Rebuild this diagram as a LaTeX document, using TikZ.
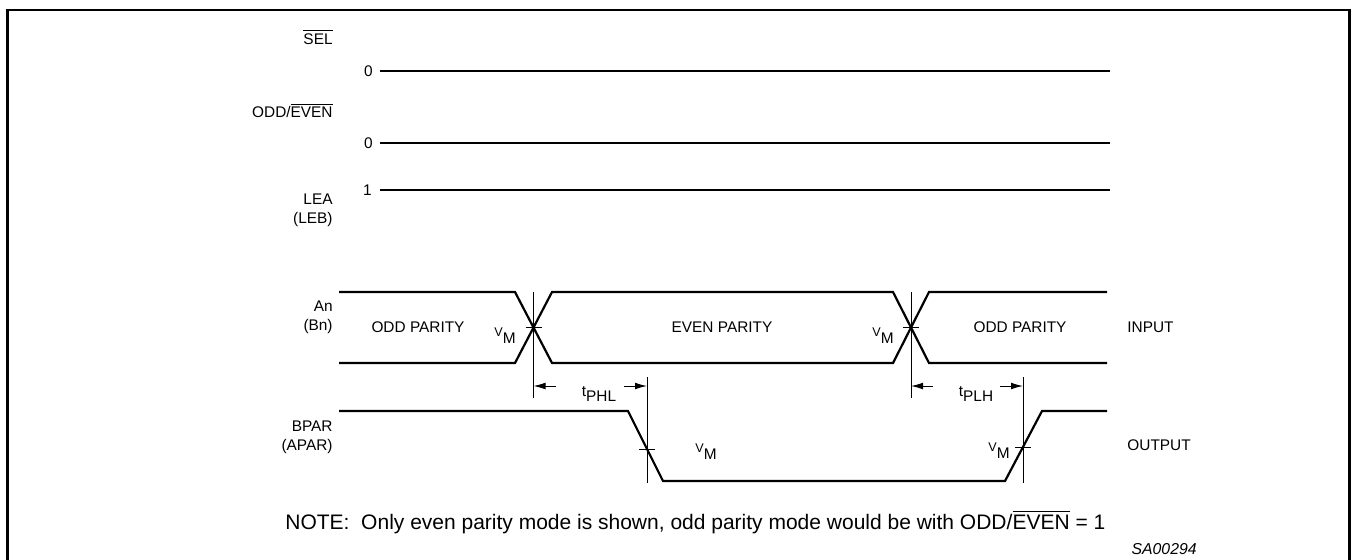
\documentclass[tikz,border=0pt]{standalone}
\usepackage{amsmath}
\usepackage{color}
\usepackage{fontspec}
\setmainfont{Liberation Sans}
\usetikzlibrary{arrows.meta}
\newcommand{\ovl}[1]{$\overline{\mbox{#1}}$}
\newcommand{\vm}{\raisebox{3.6pt}{\fontsize{6.3}{7}\selectfont V}M}
\newcommand{\tp}[1]{t\raisebox{-2.4pt}{#1}}
\tikzset{
	lbl/.style={font=\fontsize{7.7}{9.3}\selectfont, inner sep=0pt, align=right, anchor=east},
	txt/.style={font=\fontsize{7.7}{9.3}\selectfont, inner sep=0pt},
	sig/.style={line width=1.1pt, line join=miter},
	thinline/.style={line width=0.5pt},
	dim/.style={line width=0.5pt, -{Latex[length=6pt,width=3.4pt]}}
}

\begin{document}
\begin{tikzpicture}[x=0.5pt,y=-0.5pt]
				\useasboundingbox (0,0) rectangle (1353,559);
				\draw[line width=1.35pt] (7.5,600) -- (7.5,10) -- (1349.5,10) -- (1349.5,600);
				\node[lbl] (sel) at (333,37) {\ovl{SEL}};
				\node[lbl] (oddeven) at (333,110) {ODD/\ovl{EVEN}};
				\node[lbl] (lea) at (333,210) {LEA\\(LEB)};
				\node[lbl] (an) at (333,317.5) {An\\(Bn)};
				\node[lbl] (bpar) at (333,437.5) {BPAR\\(APAR)};
				\node[txt] (sel0) at (368.5,71) {0};
				\node[txt] (oe0) at (368.5,143) {0};
				\node[txt] (lea1) at (367.5,190) {1};
				\draw[sig] (sel0.east) ++(7,0) -- (1110,71);
				\draw[sig] (oe0.east) ++(7,0) -- (1110,143);
				\draw[sig] (lea1.east) ++(8,0) -- (1110,190);
				\draw[sig] (339,292) -- (515,292) -- (552,363) -- (893,363) -- (929,292) -- (1107,292);
				\draw[sig] (339,363) -- (515,363) -- (552,292) -- (893,292) -- (929,363) -- (1107,363);
				\draw[sig] (339,411) -- (628,411) -- (663,481) -- (1005,481) -- (1042,411) -- (1107,411);
				\coordinate (x1) at (533.5,327.5);
				\coordinate (x2) at (911,327.5);
				\coordinate (x3) at (647,449);
				\coordinate (x4) at (1023,447);
				\draw[thinline] (x1 |- 0,292) -- (x1 |- 0,398);
				\draw[thinline] (x2 |- 0,292) -- (x2 |- 0,398);
				\draw[thinline] (x3 |- 0,377) -- (x3 |- 0,483);
				\draw[thinline] (x4 |- 0,377) -- (x4 |- 0,483);
				\draw[thinline] (x1) +(-8,0) -- +(8,0);
				\draw[thinline] (x2) +(-8,0) -- +(8,0);
				\draw[thinline] (x3) +(-8,0) -- +(8,0);
				\draw[thinline] (x4) +(-8,0) -- +(8,0);
				\node[txt] (tphl) at (599,394) {\tp{PHL}};
				\node[txt] (tplh) at (976,394) {\tp{PLH}};
				\draw[dim] (556,386) -- (x1 |- 0,386);
				\draw[dim] (624,386) -- (x3 |- 0,386);
				\draw[dim] (933,386) -- (x2 |- 0,386);
				\draw[dim] (1000,386) -- (x4 |- 0,386);
				\node[txt] (vm1) at (505,336) {\vm};
				\node[txt] (vm2) at (883,336) {\vm};
				\node[txt] (vm3) at (706,452) {\vm};
				\node[txt] (vm4) at (999,451) {\vm};
				\node[txt] (odd1) at (418,327.5) {ODD PARITY};
				\node[txt] (even) at (722,327.5) {EVEN PARITY};
				\node[txt] (odd2) at (1020,327.5) {ODD PARITY};
				\node[txt,anchor=west] (input) at (1127,327.5) {INPUT};
				\node[txt,anchor=west] (output) at (1127,445) {OUTPUT};
				\node[txt,anchor=west,font=\fontsize{10.5}{12}\selectfont] (note) at (285,522) {NOTE:\ \ Only even parity mode is shown, odd parity mode would be with ODD/\ovl{EVEN} = 1};
				\node[txt,anchor=east,font=\fontsize{7.9}{9}\selectfont\itshape] (id) at (1197,549) {SA00294};
			\end{tikzpicture}
\end{document}
